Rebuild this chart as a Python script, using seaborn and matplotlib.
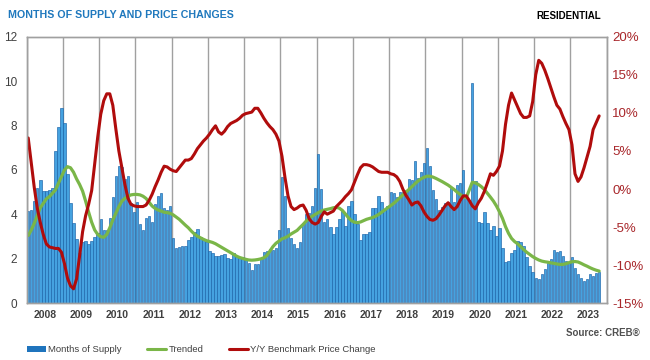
import numpy as np
import pandas as pd
import matplotlib
matplotlib.use('Agg')
import matplotlib.pyplot as plt
import seaborn as sns
from matplotlib.patches import Patch
from matplotlib.lines import Line2D

years = [str(y) for y in range(2008, 2024)]

months_of_supply = [
    4.15, 4.2, 4.6, 5.2, 5.55, 5.05, 5.05, 5.1, 5.2, 6.85, 7.95, 8.8,      # 2008
    8.1, 5.8, 4.5, 3.6, 2.9, 2.25, 2.78, 2.8, 2.65, 2.8, 3.0, 3.15,        # 2009
    3.8, 3.3, 3.3, 3.85, 4.8, 5.75, 6.2, 6.15, 5.6, 5.75, 4.5, 4.1,        # 2010
    4.55, 3.55, 3.3, 3.85, 3.95, 3.65, 4.45, 4.85, 4.95, 4.3, 4.2, 4.4,    # 2011
    2.95, 2.5, 2.55, 2.6, 2.6, 2.85, 3.0, 3.2, 3.35, 3.0, 2.9, 2.75,       # 2012
    2.36, 2.25, 2.15, 2.15, 2.17, 2.2, 2.05, 2.0, 2.25, 2.15, 2.05, 2.1,   # 2013
    2.0, 1.83, 1.5, 1.78, 1.78, 2.0, 2.33, 2.36, 2.45, 2.4, 2.48, 3.3,     # 2014
    5.7, 4.85, 3.4, 2.95, 2.65, 2.5, 2.75, 3.6, 4.0, 4.05, 4.4, 5.2,       # 2015
    6.7, 5.15, 3.65, 3.8, 3.45, 3.1, 3.45, 3.8, 4.15, 3.5, 4.4, 4.6,       # 2016
    4.0, 3.58, 2.85, 3.1, 3.1, 3.23, 4.27, 4.3, 4.83, 4.58, 4.2, 4.38,     # 2017
    5.03, 4.95, 4.8, 5.0, 5.03, 5.1, 5.6, 5.55, 6.4, 5.65, 5.93, 6.3,      # 2018
    6.98, 6.18, 5.08, 4.7, 4.2, 4.35, 4.5, 4.58, 5.18, 4.55, 5.33, 5.4,    # 2019
    6.0, 4.8, 4.65, 9.9, 5.5, 3.65, 3.6, 4.12, 3.63, 3.3, 3.48, 3.05,      # 2020
    3.37, 2.48, 1.88, 1.9, 2.25, 2.4, 2.82, 2.77, 2.6, 2.1, 1.7, 1.4,      # 2021
    1.15, 1.1, 1.3, 1.55, 1.8, 2.0, 2.4, 2.3, 2.37, 2.12, 1.9, 1.85,       # 2022
    2.07, 1.6, 1.32, 1.12, 1.02, 1.1, 1.32, 1.24, 1.37, 1.42,              # 2023
]

trended = [
    3.05, 3.3, 3.6, 3.95, 4.3, 4.5, 4.7, 4.8, 4.95, 5.1, 5.4, 5.7,
    6.0, 6.15, 6.1, 5.9, 5.6, 5.35, 5.05, 4.6, 4.1, 3.65, 3.3, 3.1,
    3.0, 2.97, 3.1, 3.4, 3.75, 4.05, 4.35, 4.6, 4.72, 4.82, 4.88, 4.9,
    4.9, 4.88, 4.82, 4.72, 4.55, 4.38, 4.27, 4.2, 4.15, 4.1, 4.08, 4.05,
    3.98, 3.88, 3.78, 3.65, 3.52, 3.4, 3.25, 3.12, 3.02, 2.95, 2.88, 2.82,
    2.78, 2.74, 2.68, 2.6, 2.52, 2.44, 2.36, 2.28, 2.2, 2.12, 2.06, 2.02,
    1.98, 1.95, 1.94, 1.95, 1.97, 2.0, 2.05, 2.15, 2.35, 2.55, 2.7, 2.8,
    2.9, 2.95, 3.02, 3.12, 3.2, 3.28, 3.42, 3.55, 3.7, 3.82, 3.92, 4.0,
    4.08, 4.15, 4.2, 4.23, 4.26, 4.3, 4.32, 4.28, 4.18, 4.02, 3.85, 3.72,
    3.65, 3.63, 3.66, 3.72, 3.78, 3.82, 3.86, 3.92, 4.0, 4.1, 4.2, 4.3,
    4.4, 4.5, 4.62, 4.75, 4.88, 5.0, 5.12, 5.25, 5.38, 5.5, 5.6, 5.67,
    5.72, 5.72, 5.68, 5.62, 5.55, 5.48, 5.4, 5.32, 5.22, 5.12, 5.0, 4.9,
    4.8, 4.75, 5.1, 5.45, 5.42, 5.35, 5.25, 5.12, 4.95, 4.78, 4.6, 4.38,
    4.12, 3.82, 3.45, 3.15, 2.92, 2.78, 2.68, 2.55, 2.42, 2.3, 2.2, 2.1,
    2.02, 1.95, 1.9, 1.87, 1.85, 1.82, 1.8, 1.77, 1.75, 1.75, 1.78, 1.83,
    1.87, 1.88, 1.86, 1.8, 1.73, 1.67, 1.6, 1.54, 1.49, 1.45,
]

price_change = [
    6.7, 3.5, 0.2, -2.5, -4.4, -6.0, -7.2, -7.6, -7.7, -7.8, -7.8, -8.3,
    -9.8, -11.7, -12.7, -13.1, -11.8, -8.8, -5.6, -3.5, -2.0, -0.2, 3.3, 6.8,
    9.8, 11.6, 12.5, 12.5, 11.0, 7.9, 5.0, 2.8, 0.6, -1.2, -2.0, -2.2,
    -2.3, -2.3, -2.3, -2.1, -1.5, -0.7, 0.3, 1.2, 2.2, 3.0, 2.9, 2.6,
    2.4, 2.3, 2.8, 3.3, 3.8, 3.8, 4.0, 4.6, 5.3, 5.8, 6.3, 6.7,
    7.2, 7.8, 8.3, 7.5, 7.2, 7.6, 8.2, 8.6, 8.8, 9.0, 9.3, 9.7,
    9.9, 10.0, 10.1, 10.6, 10.6, 10.0, 9.3, 8.7, 8.2, 7.8, 7.2, 6.3,
    4.3, 1.5, -0.9, -2.3, -2.7, -2.5, -2.2, -2.1, -2.8, -3.9, -4.4, -4.6,
    -4.4, -3.6, -3.0, -3.3, -3.1, -2.9, -2.3, -1.9, -1.5, -1.0, -0.6, -0.1,
    0.9, 1.9, 2.8, 3.2, 3.2, 3.1, 2.9, 2.6, 2.3, 2.2, 2.2, 2.2,
    2.0, 1.9, 1.6, 1.0, 0.0, -0.8, -1.4, -2.1, -1.8, -1.7, -2.2, -3.0,
    -3.6, -4.0, -4.1, -3.9, -3.4, -2.8, -2.2, -1.8, -2.3, -2.7, -2.3, -1.5,
    -0.9, -0.9, -1.5, -2.2, -2.6, -1.8, -1.2, -0.3, 0.8, 2.0, 1.8, 2.3,
    3.0, 5.0, 8.5, 11.0, 12.6, 11.7, 10.8, 9.9, 9.4, 9.4, 9.6, 11.5,
    15.0, 16.9, 16.5, 15.6, 14.5, 13.3, 12.1, 11.0, 10.5, 9.5, 8.6, 7.8,
    5.8, 2.0, 1.0, 1.6, 2.8, 4.2, 5.6, 7.8, 8.7, 9.6,
]

sns.set_theme(style='white')
plt.rcParams['font.family'] = ['Liberation Sans', 'DejaVu Sans']

n = len(months_of_supply)
df = pd.DataFrame({
    'month': np.arange(n),
    'supply': months_of_supply,
    'trend': trended,
    'price': price_change,
})

BLUE = '#45a2e0'
GREEN = '#7ab648'
RED = '#b00c0c'
GRID = '#a0a0a0'
TXT = '#404040'

fig = plt.figure(figsize=(6.5, 3.6), dpi=100)
ax = fig.add_axes([0.0411, 0.1575, 0.8923, 0.7406])
sns.barplot(data=df, x='month', y='supply', color=BLUE, saturation=1,
            width=0.8, edgecolor='#1a63a8', linewidth=0.45, ax=ax, zorder=2)
sns.lineplot(data=df, x='month', y='trend', color=GREEN, lw=2.3, ax=ax, zorder=3)

ax.set_xlim(-0.5, 191.5)
ax.set_ylim(0, 12)
ax.set_yticks(range(0, 13, 2))
ax.set_yticklabels([str(v) for v in range(0, 13, 2)], fontsize=8.5, color=TXT)
ax.set_xticks([5.5 + 12 * k for k in range(len(years))])
ax.set_xticklabels(years, fontsize=7.5, fontweight='bold', color=TXT)
ax.set_xticks(np.arange(-0.5, 192, 12), minor=True)
ax.grid(False)
ax.grid(which='minor', axis='x', color=GRID, lw=1.0)
ax.set_axisbelow(True)
ax.tick_params(axis='both', which='both', length=0)
ax.tick_params(axis='y', pad=7)
ax.tick_params(axis='x', pad=5)
ax.set_xlabel('')
ax.set_ylabel('')
for s in ax.spines.values():
    s.set_color(GRID)
    s.set_linewidth(1.0)

ax2 = ax.twinx()
sns.lineplot(data=df, x='month', y='price', color=RED, lw=2.2, ax=ax2)
ax2.set_xlim(-0.5, 191.5)
ax2.set_ylim(-15, 20)
ax2.set_yticks(range(-15, 21, 5))
ax2.set_yticklabels([f'{v}%' for v in range(-15, 21, 5)], fontsize=9.5, color='#a8262a')
ax2.tick_params(axis='y', length=0, pad=4)
ax2.set_ylabel('')
ax2.set_xlabel('')
ax2.grid(False)
for s in ax2.spines.values():
    s.set_color(GRID)
    s.set_linewidth(1.0)

fig.text(0.012, 0.958, 'MONTHS OF SUPPLY AND PRICE CHANGES', fontsize=7.7,
         fontweight='bold', color='#1f78bd', va='center', ha='left')
fig.text(0.925, 0.955, 'RESIDENTIAL', fontsize=7, fontweight='bold',
         color='black', va='center', ha='right')
fig.text(0.985, 0.075, 'Source: CREB®', fontsize=7, fontweight='bold',
         color='#505050', va='center', ha='right')

handles = [
    Patch(facecolor='#1f74bd', edgecolor='none', label='Months of Supply'),
    Line2D([0], [0], color=GREEN, lw=2.2, label='Trended'),
    Line2D([0], [0], color=RED, lw=2.2, label='Y/Y Benchmark Price Change'),
]
leg = fig.legend(handles=handles, loc='center left', bbox_to_anchor=(0.0415, 0.028),
                 ncol=3, frameon=False, fontsize=6.8, borderpad=0, borderaxespad=0,
                 handlelength=2.0, handleheight=0.5, handletextpad=0.25,
                 columnspacing=2.7)
for t in leg.get_texts():
    t.set_color(TXT)

fig.savefig('out.png', dpi=100)
